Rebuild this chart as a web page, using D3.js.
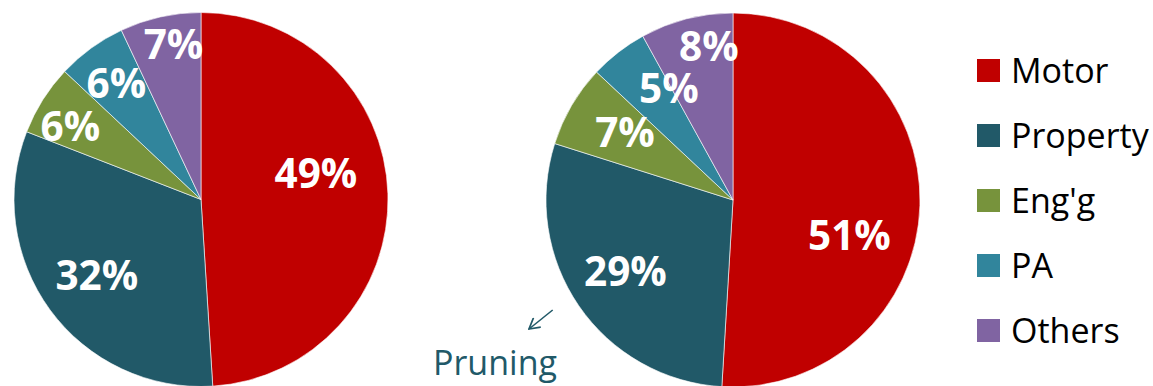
<!DOCTYPE html>
<html>
<head>
<meta charset="utf-8">
<script src="https://cdn.jsdelivr.net/npm/d3@7"></script>
<style>
  body { margin: 0; background: #fff; }
  svg { display: block; font-family: "Open Sans", "Noto Sans", sans-serif; }
</style>
</head>
<body>
<div id="container"></div>
<script>
const width = 1153;
const height = 386;

// data
const categories = ["Motor", "Property", "Eng'g", "PA", "Others"];
const colors = ["#C00000", "#215968", "#77933C", "#31859C", "#8064A2"];
const beforeValues = [49.0, 31.9, 6.1, 6.0, 7.0];
const afterValues = [50.9, 28.9, 7.1, 5.0, 8.0];
const beforeLabels = ["49%", "32%", "6%", "6%", "7%"];
const afterLabels = ["51%", "29%", "7%", "5%", "8%"];

// label placement: [radius fraction, angle shift in degrees]
const beforeLabelPos = [[0.63, -11], [0.69, 0], [0.8, -3], [0.77, 0], [0.84, 2.5]];
const afterLabelPos = [[0.65, 15], [0.69, 1], [0.68, 1.5], [0.69, 8], [0.83, 5.5]];

const svg = d3
  .select("#container")
  .append("svg")
  .attr("width", width)
  .attr("height", height);

const radius = 187;
const color = d3.scaleOrdinal().domain(categories).range(colors);
const pie = d3.pie().sort(null).value((d) => d.value);
const arc = d3.arc().innerRadius(0).outerRadius(radius);

function drawPie(cx, cy, values, labels, labelPos) {
  const rows = categories.map((c, i) => ({ name: c, value: values[i], label: labels[i] }));
  const g = svg.append("g").attr("transform", `translate(${cx},${cy})`);
  const arcs = pie(rows);
  g.selectAll("path")
    .data(arcs)
    .enter()
    .append("path")
    .attr("d", arc)
    .attr("fill", (d) => color(d.data.name))
    .attr("stroke", "#fff")
    .attr("stroke-width", 0.6);

  g.selectAll("text")
    .data(arcs)
    .enter()
    .append("text")
    .attr("transform", (d, i) => {
      const [rf, shift] = labelPos[i];
      const a = (d.startAngle + d.endAngle) / 2 + (shift * Math.PI) / 180;
      const r = rf * radius;
      return `translate(${r * Math.sin(a)},${-r * Math.cos(a)})`;
    })
    .attr("text-anchor", "middle")
    .attr("dy", "0.36em")
    .attr("fill", "#fff")
    .attr("font-weight", "bold")
    .attr("font-size", 40.5)
    .text((d) => d.data.label);
}

drawPie(201, 199.5, beforeValues, beforeLabels, beforeLabelPos);
drawPie(733, 200, afterValues, afterLabels, afterLabelPos);

// legend
const legend = svg.append("g").attr("transform", "translate(977,59)");
const item = legend
  .selectAll("g")
  .data(categories)
  .enter()
  .append("g")
  .attr("transform", (d, i) => `translate(0,${i * 65})`);
item.append("rect")
  .attr("width", 23)
  .attr("height", 23)
  .attr("fill", (d) => color(d));
item.append("text")
  .attr("x", 34)
  .attr("y", 11.5)
  .attr("dy", "0.36em")
  .attr("font-size", 34)
  .attr("fill", "#000")
  .text((d) => d);

// annotation
const teal = "#215968";
svg.append("defs")
  .append("marker")
  .attr("id", "head")
  .attr("viewBox", "0 0 10 10")
  .attr("refX", 9)
  .attr("refY", 5)
  .attr("markerWidth", 13)
  .attr("markerHeight", 13)
  .attr("orient", "auto")
  .attr("markerUnits", "userSpaceOnUse")
  .append("path")
  .attr("d", "M1,0.5L9,5L1,9.5")
  .attr("fill", "none")
  .attr("stroke", teal)
  .attr("stroke-width", 1.3);

svg.append("line")
  .attr("x1", 552.7)
  .attr("y1", 310)
  .attr("x2", 529)
  .attr("y2", 329)
  .attr("stroke", teal)
  .attr("stroke-width", 1.6)
  .attr("marker-end", "url(#head)");

svg.append("text")
  .attr("x", 433)
  .attr("y", 375)
  .attr("font-size", 34)
  .attr("fill", teal)
  .text("Pruning");
</script>
</body>
</html>
